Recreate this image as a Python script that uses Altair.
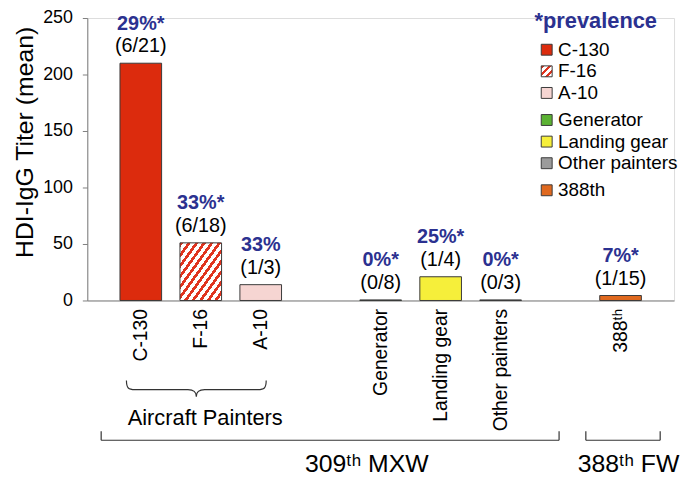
import altair as alt
import pandas as pd

FONT = "Liberation Sans, Arial, DejaVu Sans, sans-serif"
NAVY = "#2B3190"
EDGE = "#3a3a3a"
AXISGRAY = "#808080"

# ---- data ----
categories = ["C-130", "F-16", "A-10", "Generator", "Landing gear", "Other painters", "388th"]
titers = [210, 51, 14, 0.5, 21, 0.5, 4.4]
prevalence = ["29%*", "33%*", "33%", "0%*", "25%*", "0%*", "7%*"]
counts = ["(6/21)", "(6/18)", "(1/3)", "(0/8)", "(1/4)", "(0/3)", "(1/15)"]
colors = ["#DC2B0D", "#E0341F", "#F6D5D2", "#5BB233", "#F6EF3A", "#9B9B9B", "#E0691F"]
legend_groups = [0, 0, 0, 1, 1, 1, 2]
slot_domain = ["C-130", "F-16", "A-10", "gap1", "Generator", "Landing gear",
               "Other painters", "gap2", "388th"]
y_ticks = [0, 50, 100, 150, 200, 250]

df = pd.DataFrame({"cat": categories, "titer": titers, "pct": prevalence,
                   "count": counts, "color": colors})


def stripes(c1, c2, n, frac):
    stops = []
    for k in range(n):
        a = k / n
        b = (k + frac) / n
        e = (k + 1) / n
        stops += [alt.GradientStop(offset=a, color=c1), alt.GradientStop(offset=b, color=c1),
                  alt.GradientStop(offset=b, color=c2), alt.GradientStop(offset=e, color=c2)]
    return alt.Gradient(gradient="linear", stops=stops, x1=0, y1=0, x2=1, y2=1)


x_enc = alt.X(
    "cat:N",
    scale=alt.Scale(domain=slot_domain, paddingInner=0.306, paddingOuter=0.545),
    axis=alt.Axis(
        title=None, labelAngle=270, labelFontSize=19.5, labelFont=FONT, labelColor="black",
        labelPadding=8, ticks=False, domainColor=AXISGRAY, labelOverlap=False,
        labelExpr="indexof(datum.value,'gap')==0 ? '' : (datum.value=='388th' ? '388\u1d57\u02b0' : datum.value)",
    ),
)
y_enc = alt.Y(
    "titer:Q",
    scale=alt.Scale(domain=[0, 250], nice=False),
    axis=alt.Axis(
        values=y_ticks, grid=False, tickSize=5, tickColor=AXISGRAY, domainColor=AXISGRAY,
        labelFontSize=18, labelFont=FONT, labelColor="black", labelPadding=10,
        title="HDI-IgG Titer (mean)", titleFontSize=25, titleFont=FONT, titleFontWeight="normal",
        titleColor="black", titleX=-63, titleY=125, titleAngle=270, titleAlign="center",
        titleBaseline="middle",
    ),
)

base = alt.Chart(df).encode(x=x_enc, y=y_enc)

solid = base.mark_bar(stroke=EDGE, strokeWidth=1).encode(
    fill=alt.Fill("color:N", scale=None)
).transform_filter("datum.cat != 'F-16' && datum.cat != 'A-10'")

hatch = base.mark_bar(fill=stripes("#E0341F", "#FFFFFF", 11, 0.45), stroke=EDGE, strokeWidth=1
                      ).transform_filter("datum.cat == 'F-16'")
dotted = base.mark_bar(fill="#F6D5D2", stroke=EDGE, strokeWidth=1
                       ).transform_filter("datum.cat == 'A-10'")

pct_text = base.mark_text(dy=-34, baseline="alphabetic", fontSize=20, fontWeight="bold",
                          color=NAVY, font=FONT).encode(text="pct:N")
cnt_text = base.mark_text(dy=-11, baseline="alphabetic", fontSize=20, color="black",
                          font=FONT).encode(text="count:N")

# ---- custom legend ----
leg = pd.DataFrame({
    "name": categories,
    "color": colors,
    "ly": [32 + 21.8 * i + 5.5 * g for i, g in enumerate(legend_groups)],
})
LEG_X = 463.5
leg_sq = alt.Chart(leg).mark_square(size=121, stroke=EDGE, strokeWidth=1, opacity=1).encode(
    x=alt.value(LEG_X), y=alt.Y("ly:Q", scale=None, axis=None),
    fill=alt.Fill("color:N", scale=None),
).transform_filter("datum.name != 'F-16'")
leg_hatch = alt.Chart(leg).mark_square(size=121, stroke=EDGE, strokeWidth=1, opacity=1,
                                       fill=stripes("#E0341F", "#FFFFFF", 3, 0.45)).encode(
    x=alt.value(LEG_X), y=alt.Y("ly:Q", scale=None, axis=None),
).transform_filter("datum.name == 'F-16'")
leg_txt = alt.Chart(leg).mark_text(align="left", baseline="middle", fontSize=19, font=FONT,
                                   color="black").encode(
    x=alt.value(LEG_X + 11.5), y=alt.Y("ly:Q", scale=None, axis=None), text="name:N")

one = pd.DataFrame({"d": [0]})


def label(txt, x, y, size, weight="normal", color="black"):
    return alt.Chart(one).mark_text(text=txt, fontSize=size, fontWeight=weight, color=color,
                                    font=FONT, align="center", baseline="middle").encode(
        x=alt.value(x), y=alt.value(y))


def rule(x1, x2, y1, y2):
    return alt.Chart(one).mark_rule(color="#333333", strokeWidth=1.2).encode(
        x=alt.value(x1), x2=alt.value(x2), y=alt.value(y1), y2=alt.value(y2))


leg_title = label("*prevalence", 513, 3, 22, "bold", NAVY)

BRACE = ("M -1 -0.13 C -1 -0.02 -0.97 0 -0.88 0 L -0.12 0 C -0.04 0 0 0.03 0 0.1 "
         "C 0 0.03 0.04 0 0.12 0 L 0.88 0 C 0.97 0 1 -0.02 1 -0.13")
brace = alt.Chart(one).mark_point(shape=BRACE, size=19881, filled=False, stroke="#333333",
                                  strokeWidth=1.2, opacity=1).encode(
    x=alt.value(110), y=alt.value(375))

annos = [
    brace,
    label("Aircraft Painters", 119, 404, 22),
    rule(14, 476, 426, 426), rule(14, 14, 417, 426), rule(476, 476, 417, 426),
    rule(503, 578, 426, 426), rule(503, 503, 417, 426), rule(578, 578, 417, 426),
    label("309\u1d57\u02b0 MXW", 282, 450, 25),
    label("388\u1d57\u02b0 FW", 546, 450, 25),
]

chart = alt.layer(
    solid, hatch, dotted, pct_text, cnt_text, leg_sq, leg_hatch, leg_txt, leg_title, *annos
).properties(
    width=592, height=285,
    padding={"left": 80, "top": 8, "right": 6, "bottom": 177},
    autosize=alt.AutoSizeParams(type="none"),
).configure_view(stroke=None).configure(font=FONT)

chart.save("out.html", embed_options={"renderer": "svg", "actions": False})
